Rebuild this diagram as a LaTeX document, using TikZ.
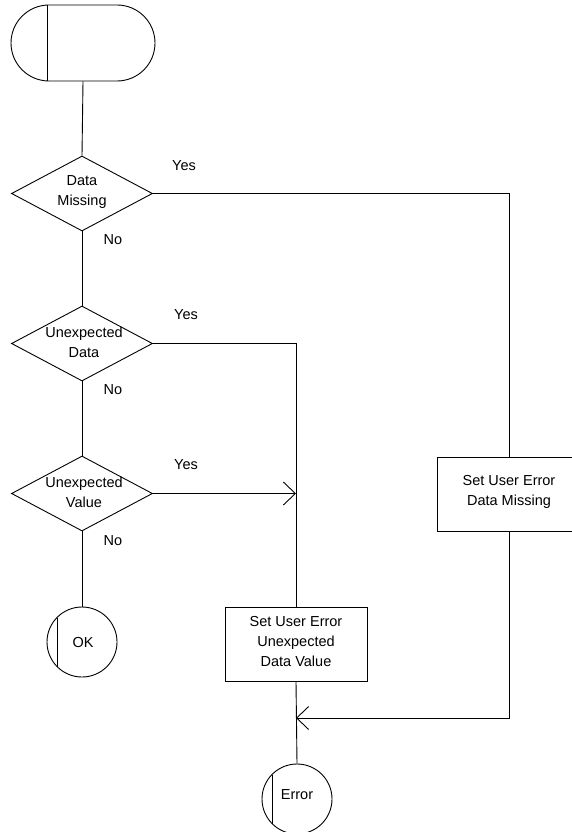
\documentclass[tikz,border=0pt]{standalone}
\usepackage{fontspec}
\setmainfont{Liberation Sans}
\usetikzlibrary{shapes.geometric,arrows.meta}
\begin{document}
\begin{tikzpicture}[x=1pt,y=-1pt,
  every node/.style={font=\fontsize{14.5}{20}\selectfont},
  ln/.style={draw=black,line width=0.9pt},
  term/.style={ln,rectangle,rounded corners=38pt,minimum width=144pt,minimum height=76pt,inner sep=0pt},
  dec/.style={ln,diamond,minimum width=141pt,minimum height=75pt,inner sep=0pt},
  proc/.style={ln,rectangle,minimum width=144pt,minimum height=74pt,inner sep=0pt},
  endc/.style={ln,circle,minimum size=70pt,inner sep=0pt},
  txt/.style={align=center,inner sep=0pt},
  arr/.style={ln,-{Straight Barb[length=12pt,width=23pt,line width=0.9pt]}}
]
\useasboundingbox (0,0) rectangle (572,832);
\node[term] (t) at (83,43) {};
\draw[ln] (47,5) -- (47,81);

\node[dec] (d1) at (82,193.5) {};
\node[txt] (d1t) at (82,192) {Data\\Missing};
\node[dec] (d2) at (82,343.5) {};
\node[txt] (d2t) at (84,342) {Unexpected\\Data};
\node[dec] (d3) at (82,493.5) {};
\node[txt] (d3t) at (84,492) {Unexpected\\Value};

\node[txt] (y1) at (184,166) {Yes};
\node[txt] (y2) at (186,315) {Yes};
\node[txt] (y3) at (186,465) {Yes};
\node[txt] (n1) at (113,240) {No};
\node[txt] (n2) at (113,390) {No};
\node[txt] (n3) at (113,541) {No};

\node[proc] (b1) at (509,494) {};
\node[txt] (b1t) at (509,492) {Set User Error\\Data Missing};
\node[proc,minimum width=142pt] (b2) at (296,644) {};
\node[txt] (b2t) at (296,642) {Set User Error\\Unexpected\\Data Value};

\node[endc] (ok) at (82,642) {};
\node[txt] (okt) at (83,643) {OK};
\draw[ln] (57,617.5) -- (57,666.5);
\node[endc] (err) at (297,799) {};
\node[txt] (errt) at (297,795) {Error};
\draw[ln] (272,774.5) -- (272,823.5);

\coordinate (j1) at (296,493.5);
\coordinate (j2) at (296,718);

\draw[ln] (t.south) -- (d1.north);
\draw[ln] (d1.south) -- (d2.north);
\draw[ln] (d2.south) -- (d3.north);
\draw[ln] (d3.south) -- (ok.north);
\draw[ln] (d1.east) -| (b1.north);
\draw[ln] (d2.east) -| (b2.north);
\draw[arr] (d3.east) -- (j1);
\draw[arr] (b1.south) |- (j2);
\draw[ln] (b2.south) -- (err.north);
\end{tikzpicture}
\end{document}
